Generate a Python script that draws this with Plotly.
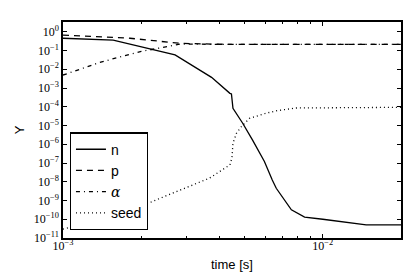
import plotly.graph_objects as go

# time points and series values
t_n = [0.001, 0.00156, 0.0027, 0.00373, 0.00439, 0.00445, 0.00451, 0.00491,
       0.00536, 0.00596, 0.00639, 0.00662, 0.00757, 0.00851, 0.0100, 0.01265, 0.01469, 0.020]
y_n = [0.45, 0.36, 0.058, 3.7e-3, 5.2e-4, 4.8e-4, 8.3e-5, 1.36e-5,
       1.7e-6, 1.2e-7, 1.24e-8, 4.5e-9, 3.2e-10, 1.3e-10, 1.0e-10, 6.2e-11, 5.0e-11, 5.0e-11]

t_p = [0.001, 0.00181, 0.00283, 0.004, 0.006, 0.01, 0.02]
y_p = [0.66, 0.45, 0.24, 0.215, 0.213, 0.213, 0.213]

t_a = [0.001, 0.00141, 0.002, 0.00283, 0.004, 0.006, 0.01, 0.02]
y_a = [4.9e-3, 0.025, 0.089, 0.22, 0.213, 0.213, 0.213, 0.213]

t_s = [0.001, 0.00158, 0.00236, 0.00366, 0.00439, 0.00447, 0.00451, 0.00465,
       0.00486, 0.00522, 0.00605, 0.00668, 0.0079, 0.012, 0.02]
y_s = [3.0e-11, 1.26e-10, 1.3e-9, 1.55e-8, 7.9e-8, 1.85e-7, 1.12e-6, 3.8e-6,
       8.7e-6, 2.4e-5, 4.5e-5, 6.2e-5, 8.6e-5, 9.2e-5, 9.3e-5]

series_names = ["n", "p", "<span style=\"font-family:'DejaVu Serif';font-style:italic\">α</span>", "seed"]

y_tickvals = [10.0 ** (-k) for k in range(0, 12)]
y_ticktext = ["10<sup>0</sup>"] + ["10<sup>−%d</sup>" % k for k in range(1, 12)]
x_tickvals = [1e-3, 1e-2]
x_ticktext = ["10<sup>−3</sup>", "10<sup>−2</sup>"]
x_minor = [k * 1e-3 for k in range(2, 10)] + [2e-2]

fig = go.Figure()
styles = ["solid", "6px,5px", "4px,4px,1px,4px", "1px,3px"]
for (tx, ty), name, dash in zip([(t_n, y_n), (t_p, y_p), (t_a, y_a), (t_s, y_s)], series_names, styles):
    fig.add_trace(go.Scatter(x=tx, y=ty, mode="lines", name=name,
                             line=dict(color="black", width=1.3, dash=dash)))

tickfont = dict(family="Liberation Serif, DejaVu Serif", size=12, color="black")
fig.update_layout(
    width=415, height=280,
    margin=dict(l=63, r=12, t=22, b=42),
    paper_bgcolor="white", plot_bgcolor="white",
    showlegend=True,
    legend=dict(x=0.02, y=0.035, xanchor="left", yanchor="bottom",
                bordercolor="black", borderwidth=1.2, bgcolor="white",
                font=dict(family="Liberation Sans, Arial", size=14, color="black"),
                tracegroupgap=0, itemwidth=30),
    xaxis=dict(type="log", range=[-3, -1.699], showgrid=False, zeroline=False,
               showline=True, linecolor="black", linewidth=1.5, mirror="allticks",
               ticks="inside", ticklen=4, tickcolor="black",
               tickmode="array", tickvals=x_tickvals, ticktext=x_ticktext,
               tickfont=tickfont, ticklabelstandoff=-4,
               minor=dict(tickmode="array", tickvals=x_minor, ticks="inside", ticklen=2, tickcolor="black")),
    yaxis=dict(type="log", range=[-11, 0.52], showgrid=False, zeroline=False,
               showline=True, linecolor="black", linewidth=1.5, mirror="allticks",
               ticks="inside", ticklen=4, tickcolor="black",
               tickmode="array", tickvals=y_tickvals, ticktext=y_ticktext,
               tickfont=tickfont,
               title=dict(text="Y", font=dict(family="Liberation Sans, Arial", size=13, color="black"), standoff=6)),
    annotations=[dict(text="time [s]", xref="paper", yref="paper", x=0.5, y=0,
                      xanchor="center", yanchor="middle", yshift=-26, showarrow=False,
                      font=dict(family="Liberation Sans, Arial", size=13, color="black"))],
)

fig.write_html("out.html", config={"displayModeBar": False},
               post_script="document.body.style.margin='0';")
